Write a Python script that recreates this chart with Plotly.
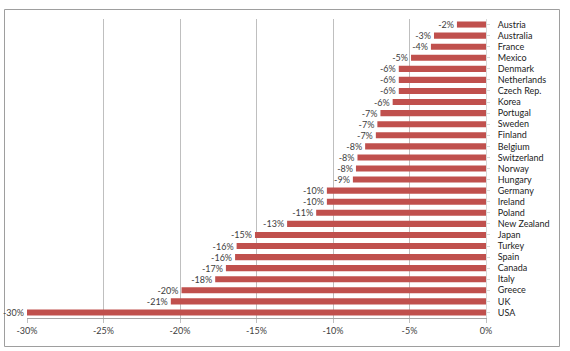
import plotly.graph_objects as go

countries = ["Austria", "Australia", "France", "Mexico", "Denmark", "Netherlands",
             "Czech Rep.", "Korea", "Portugal", "Sweden", "Finland", "Belgium",
             "Switzerland", "Norway", "Hungary", "Germany", "Ireland", "Poland",
             "New Zealand", "Japan", "Turkey", "Spain", "Canada", "Italy",
             "Greece", "UK", "USA"]
values = [-1.9, -3.4, -3.6, -4.9, -5.7, -5.7, -5.7, -6.1, -6.9, -7.1, -7.2, -7.9,
          -8.4, -8.5, -8.7, -10.4, -10.4, -11.1, -13.0, -15.1, -16.3, -16.4, -17.0,
          -17.7, -19.9, -20.6, -30.0]
x_ticks = [-30, -25, -20, -15, -10, -5, 0]
x_ticklabels = ["-30%", "-25%", "-20%", "-15%", "-10%", "-5%", "0%"]

labels = [f"{v:.0f}%" for v in values]

fig = go.Figure(go.Bar(
    x=values, y=countries, orientation="h",
    marker=dict(color="#C0504D", line=dict(width=0)),
    text=labels, textposition="outside", cliponaxis=False,
    constraintext="none",
    textfont=dict(family="Lato", size=9, color="#404040"),
    width=0.55,
))

W, H = 570, 351
ml, mr, mt, mb = 27, 84, 19, 33
pw, ph = W - ml - mr, H - mt - mb

def px_to_paper_x(px):
    return (px - ml) / pw

def px_to_paper_y(py):
    return 1 - (py - mt) / ph

fig.update_layout(
    width=W, height=H,
    margin=dict(l=ml, r=mr, t=mt, b=mb, pad=0),
    plot_bgcolor="white", paper_bgcolor="white",
    showlegend=False,
    font=dict(family="Lato", size=9, color="#222222"),
    xaxis=dict(range=[-30, 0], tickvals=x_ticks, ticktext=x_ticklabels,
               showgrid=True, gridcolor="#BFBFBF", gridwidth=1,
               zeroline=False, showline=True, linecolor="#A6A6A6", linewidth=1,
               ticks="outside", ticklen=4, tickcolor="#BFBFBF",
               tickfont=dict(family="Lato", size=9, color="#404040"),
               fixedrange=True),
    yaxis=dict(categoryorder="array", categoryarray=countries, autorange="reversed",
               tickmode="array", tickvals=countries,
               side="right", showgrid=False, zeroline=False,
               showline=True, linecolor="#D9D9D9", linewidth=1,
               ticks="outside", ticklen=3, tickcolor="#D9D9D9",
               ticklabelstandoff=6,
               tickfont=dict(family="Lato", size=9, color="#222222"),
               fixedrange=True),
    shapes=[dict(type="rect", xref="paper", yref="paper",
                 x0=px_to_paper_x(4.5), x1=px_to_paper_x(559.5),
                 y0=px_to_paper_y(346.5), y1=px_to_paper_y(9.5),
                 line=dict(color="#9E9E9E", width=1), layer="below")],
)

fig.write_html("out.html")
